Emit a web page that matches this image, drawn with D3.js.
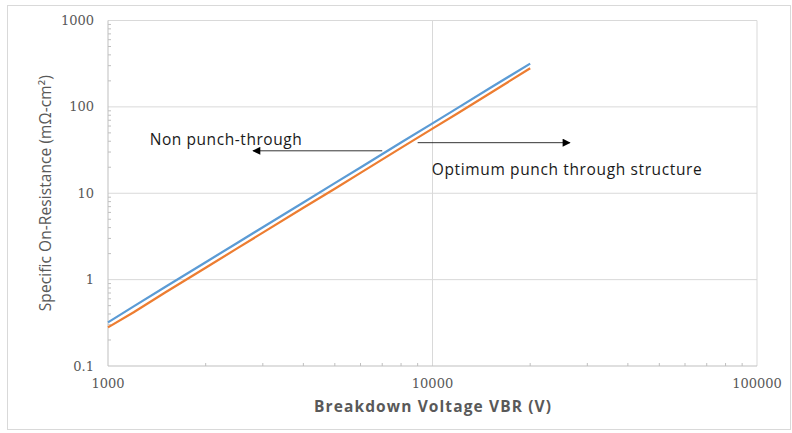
<!DOCTYPE html>
<html>
<head>
<meta charset="utf-8">
<script src="https://cdn.jsdelivr.net/npm/d3@7"></script>
<style>
  body { margin: 0; background: #fff; }
  svg { display: block; }
</style>
</head>
<body>
<svg id="chart" width="792" height="433"></svg>
<script>
// values (log-log)
const voltage = [1000, 1200, 1500, 2000, 2500, 3000, 4000, 5000, 6000, 8000, 10000, 12000, 15000, 20000]
const ronNPT = [0.32, 0.49, 0.82, 1.59, 2.66, 4.04, 7.83, 13.1, 19.9, 38.6, 64.4, 98, 164, 317]
const ronOPT = [0.28, 0.42, 0.71, 1.37, 2.3, 3.5, 6.8, 11.3, 17.2, 33.5, 56, 85, 143, 280]

const xTicks = [1000, 10000, 100000]
const yTicks = [0.1, 1, 10, 100, 1000]

// annotations in data units
const notes = [
  { text: "Non punch-through", x: 1345, y: 36, len: 152 },
  { text: "Optimum punch through structure", x: 9950, y: 16.2, len: 270 }
]
const arrows = [
  { from: [7000, 31], to: [2800, 31] },
  { from: [9000, 38.5], to: [26500, 38.5] }
]

const svg = d3.select("#chart")
const margin = { left: 108, right: 35, top: 20.5, bottom: 67 }
const width = 792, height = 433
const tickFont = "'DejaVu Serif', 'Liberation Serif', serif"
const textFont = "'Open Sans', 'Noto Sans', sans-serif"

const x = d3.scaleLog().domain([1000, 100000]).range([margin.left, width - margin.right])
const y = d3.scaleLog().domain([0.1, 1000]).range([height - margin.bottom, margin.top])

// outer chart border
svg.append("rect")
  .attr("x", 7.5).attr("y", 5.5)
  .attr("width", 783).attr("height", 424)
  .attr("fill", "none")
  .attr("stroke", "#d9d9d9")

// gridlines
svg.append("g").selectAll("line")
  .data(yTicks.slice(1))
  .enter().append("line")
  .attr("x1", x(1000)).attr("x2", x(100000))
  .attr("y1", d => y(d)).attr("y2", d => y(d))
  .attr("stroke", "#d9d9d9")

svg.append("g").selectAll("line")
  .data(xTicks.slice(1))
  .enter().append("line")
  .attr("x1", d => x(d)).attr("x2", d => x(d))
  .attr("y1", y(0.1)).attr("y2", y(1000))
  .attr("stroke", "#d9d9d9")

// minor ticks (2..9 of each decade)
const minorX = x.ticks().filter(d => !xTicks.includes(d))
const minorY = y.ticks().filter(d => !yTicks.includes(d))

svg.append("g").selectAll("line")
  .data(minorX)
  .enter().append("line")
  .attr("x1", d => x(d)).attr("x2", d => x(d))
  .attr("y1", y(0.1)).attr("y2", y(0.1) - 3)
  .attr("stroke", "#bfbfbf")

svg.append("g").selectAll("line")
  .data(minorY)
  .enter().append("line")
  .attr("x1", x(1000)).attr("x2", x(1000) + 3)
  .attr("y1", d => y(d)).attr("y2", d => y(d))
  .attr("stroke", "#bfbfbf")

// axis lines
svg.append("line")
  .attr("x1", x(1000)).attr("x2", x(100000))
  .attr("y1", y(0.1)).attr("y2", y(0.1))
  .attr("stroke", "#bfbfbf")
svg.append("line")
  .attr("x1", x(1000)).attr("x2", x(1000))
  .attr("y1", y(0.1)).attr("y2", y(1000))
  .attr("stroke", "#bfbfbf")

// tick labels
svg.append("g").selectAll("text")
  .data(xTicks)
  .enter().append("text")
  .attr("x", d => x(d))
  .attr("y", y(0.1) + 22)
  .attr("text-anchor", "middle")
  .style("font-family", tickFont)
  .style("font-size", "13px")
  .style("fill", "#595959")
  .text(d => d)

svg.append("g").selectAll("text")
  .data(yTicks)
  .enter().append("text")
  .attr("x", x(1000) - 14)
  .attr("y", d => y(d))
  .attr("dy", "0.35em")
  .attr("text-anchor", "end")
  .style("font-family", tickFont)
  .style("font-size", "13px")
  .style("fill", "#595959")
  .text(d => d)

// axis titles
svg.append("text")
  .attr("x", (x(1000) + x(100000)) / 2)
  .attr("y", 412)
  .attr("text-anchor", "middle")
  .attr("textLength", 237)
  .style("font-family", textFont)
  .style("font-weight", "bold")
  .style("font-size", "15.5px")
  .style("fill", "#595959")
  .text("Breakdown Voltage VBR (V)")

svg.append("text")
  .attr("transform", "translate(51," + (y(0.1) + y(1000)) / 2 + ") rotate(-90)")
  .attr("text-anchor", "middle")
  .attr("textLength", 236)
  .style("font-family", textFont)
  .style("font-size", "15.5px")
  .style("fill", "#595959")
  .text("Specific On-Resistance (mΩ-cm²)")

// data lines
const line = d3.line()
  .x((d, i) => x(voltage[i]))
  .y(d => y(d))

svg.append("path")
  .datum(ronOPT)
  .attr("d", line)
  .attr("fill", "none")
  .attr("stroke", "#ed7d31")
  .attr("stroke-width", 2.25)

svg.append("path")
  .datum(ronNPT)
  .attr("d", line)
  .attr("fill", "none")
  .attr("stroke", "#5b9bd5")
  .attr("stroke-width", 2.25)

// arrows
svg.append("defs").append("marker")
  .attr("id", "head")
  .attr("viewBox", "0 0 10 10")
  .attr("refX", 9).attr("refY", 5)
  .attr("markerWidth", 10).attr("markerHeight", 8)
  .attr("markerUnits", "userSpaceOnUse")
  .attr("orient", "auto")
  .append("path")
  .attr("d", "M0,0L10,5L0,10Z")
  .attr("fill", "#000")

svg.append("g").selectAll("line")
  .data(arrows)
  .enter().append("line")
  .attr("x1", d => x(d.from[0])).attr("y1", d => y(d.from[1]))
  .attr("x2", d => x(d.to[0])).attr("y2", d => y(d.to[1]))
  .attr("stroke", "#000")
  .attr("stroke-width", 0.8)
  .attr("marker-end", "url(#head)")

svg.append("g").selectAll("text")
  .data(notes)
  .enter().append("text")
  .attr("x", d => x(d.x))
  .attr("y", d => y(d.y))
  .attr("textLength", d => d.len)
  .style("font-family", textFont)
  .style("font-size", "15.5px")
  .style("fill", "#1a1a1a")
  .text(d => d.text)
</script>
</body>
</html>
